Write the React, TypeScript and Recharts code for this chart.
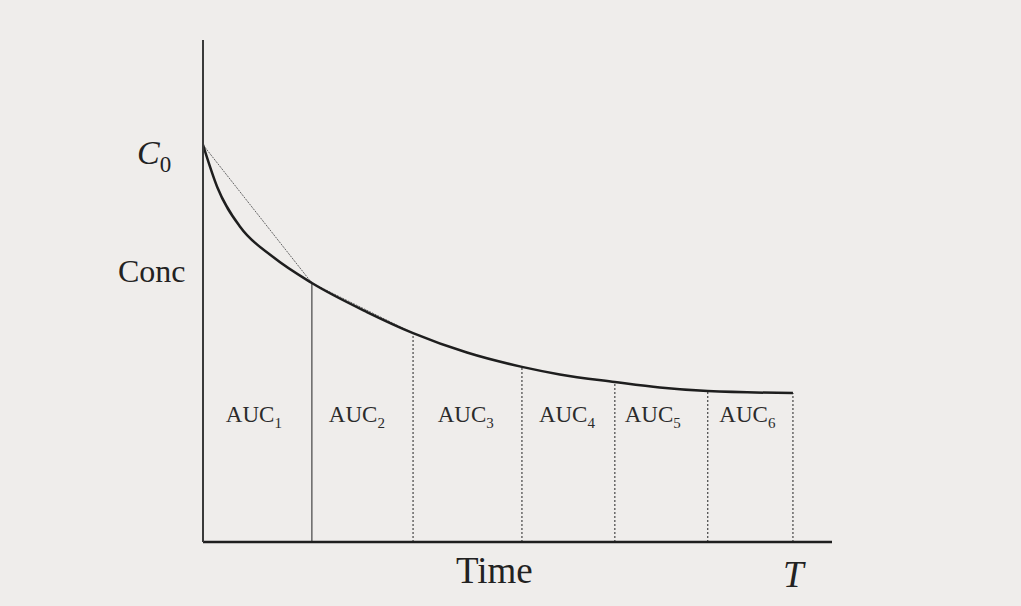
import React from "react";
import {
  ComposedChart,
  Line,
  ReferenceLine,
  Scatter,
  XAxis,
  YAxis,
} from "recharts";

// curve: time (T = 10) vs concentration (C0 = 100)
const curveTime = [0, 0.24, 0.63, 1.18, 1.84, 2.77, 3.55, 4.46, 5.39, 6.03, 6.96, 7.72, 8.53, 9.97];
const curveConc = [100, 89.4, 79.3, 71.8, 65.2, 57.9, 52.6, 47.7, 44.1, 42.2, 40.3, 38.9, 38.0, 37.5];

// sampling times (ends of each AUC segment)
const sampleTime = [1.84, 3.55, 5.39, 6.96, 8.53, 9.97];
const sampleConc = [65.2, 52.6, 44.1, 40.3, 38.0, 37.5];

// trapezoid chords drawn over the first two segments
const chordTime = [0, 1.84, 3.55];
const chordConc = [100, 65.2, 52.6];

const aucNames = ["1", "2", "3", "4", "5", "6"];
const aucLabelTime = [0.86, 2.6, 4.44, 6.15, 7.6, 9.2];
const aucLabelConc = 30.2;

const X_MAX = 10.63;
const Y_MAX = 126.4;

const curveData = curveTime.map((t, i) => ({ t, conc: curveConc[i] }));
const chordData = chordTime.map((t, i) => ({ t, chord: chordConc[i] }));
const aucData = aucNames.map((n, i) => ({ t: aucLabelTime[i], y: aucLabelConc, n }));

const INK = "#1e1e1e";
const SERIF = "'Liberation Serif', 'DejaVu Serif', serif";

function AucLabel(props: any) {
  const { cx, cy, payload } = props;
  return (
    <text
      x={cx}
      y={cy}
      textAnchor="middle"
      fontFamily={SERIF}
      fontSize={23}
      fill="#2b2b2b"
    >
      AUC
      <tspan fontSize={15} dy={6}>
        {payload.n}
      </tspan>
    </text>
  );
}

export default function App() {
  return (
    <div
      style={{
        position: "absolute",
        left: 0,
        top: 0,
        width: 1021,
        height: 606,
        background: "#efedeb",
        fontFamily: SERIF,
        color: "#222",
      }}
    >
      <ComposedChart
        width={1021}
        height={606}
        margin={{ top: 40, left: 202, right: 189, bottom: 63 }}
      >
        <XAxis
          type="number"
          dataKey="t"
          domain={[0, X_MAX]}
          allowDataOverflow
          height={1}
          tick={false}
          tickLine={false}
          axisLine={{ stroke: INK, strokeWidth: 2.5 }}
        />
        <YAxis
          type="number"
          domain={[0, Y_MAX]}
          allowDataOverflow
          width={1}
          tick={false}
          tickLine={false}
          axisLine={{ stroke: "#3a3a3a", strokeWidth: 2 }}
        />
        {sampleTime.map((t, i) => (
          <ReferenceLine
            key={t}
            segment={[
              { x: t, y: 0 },
              { x: t, y: sampleConc[i] },
            ]}
            stroke="#444"
            strokeWidth={1.2}
            strokeDasharray={i === 0 ? undefined : "2 2"}
          />
        ))}
        <Line
          data={chordData}
          dataKey="chord"
          type="linear"
          stroke="#666"
          strokeWidth={1}
          strokeDasharray="2 1"
          dot={false}
          isAnimationActive={false}
        />
        <Line
          data={curveData}
          dataKey="conc"
          type="monotone"
          stroke={INK}
          strokeWidth={2.5}
          dot={false}
          isAnimationActive={false}
        />
        <Scatter
          data={aucData}
          dataKey="y"
          shape={<AucLabel />}
          isAnimationActive={false}
        />
      </ComposedChart>

      <div style={{ position: "absolute", left: 137, top: 134, fontSize: 34, fontStyle: "italic" }}>
        C<span style={{ fontStyle: "normal", fontSize: 23, position: "relative", top: 8 }}>0</span>
      </div>
      <div style={{ position: "absolute", left: 118, top: 253, fontSize: 32 }}>Conc</div>
      <div style={{ position: "absolute", left: 456, top: 549, fontSize: 37 }}>Time</div>
      <div style={{ position: "absolute", left: 783, top: 553, fontSize: 37, fontStyle: "italic" }}>T</div>
    </div>
  );
}
